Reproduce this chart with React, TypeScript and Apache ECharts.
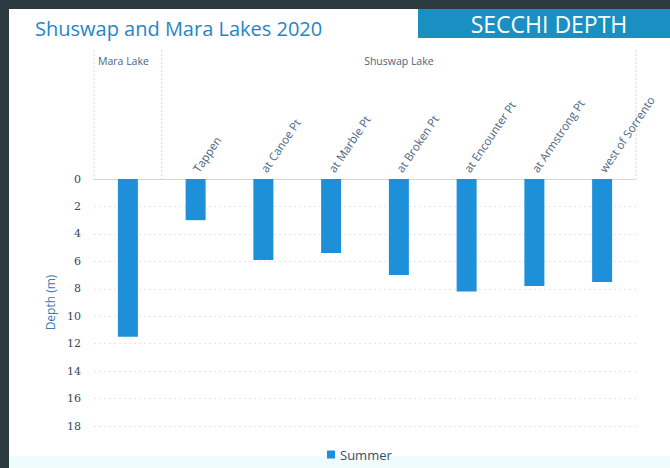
import React, { useEffect, useRef } from "react";
import * as echarts from "echarts";

const categories = ["Mara Lake", "Tappen", "at Canoe Pt", "at Marble Pt", "at Broken Pt", "at Encounter Pt", "at Armstrong Pt", "west of Sorrento"];
const summerDepth = [11.5, 3.0, 5.9, 5.4, 7.0, 8.2, 7.8, 7.5];
const groupNames = ["Mara Lake", "Shuswap Lake"];
const groupSpans = [1, 7];
const yTicks = { min: 0, max: 18, interval: 2 };

const W = 670;
const H = 468;
const GRID = { left: 94, right: 34, top: 179, bottom: 42 };
const BOX_TOP = 50;

export default function App() {
  const ref = useRef<HTMLDivElement>(null);
  useEffect(() => {
    if (!ref.current) return;
    const chart = echarts.init(ref.current, null, { renderer: "svg" });
    const plotW = W - GRID.left - GRID.right;
    const cellW = plotW / categories.length;
    const groupGraphics: any[] = [];
    let start = 0;
    const sepLine = (x: number) => ({
      type: "line",
      shape: { x1: x, y1: BOX_TOP, x2: x, y2: GRID.top },
      style: { stroke: "#d4d8dc", lineWidth: 1, lineDash: [2, 2] },
      silent: true,
    });
    groupGraphics.push(sepLine(GRID.left));
    groupNames.forEach((g, i) => {
      const x0 = GRID.left + start * cellW;
      const x1 = GRID.left + (start + groupSpans[i]) * cellW;
      groupGraphics.push(sepLine(x1));
      groupGraphics.push({
        type: "text",
        x: i === 0 ? x0 + 4 : (x0 + x1) / 2,
        y: 61,
        style: {
          text: g,
          fill: "#4a6482",
          font: "10.5px 'Open Sans', sans-serif",
          textAlign: i === 0 ? "left" : "center",
          textVerticalAlign: "middle",
        },
        silent: true,
      });
      start += groupSpans[i];
    });

    chart.setOption({
      animation: false,
      backgroundColor: "#ffffff",
      graphic: [
        { type: "rect", shape: { x: 0, y: 0, width: W, height: 9 }, style: { fill: "#2b3a3f" }, silent: true, z: -10 },
        { type: "rect", shape: { x: 0, y: 0, width: 9, height: H }, style: { fill: "#2b3a3f" }, silent: true, z: -10 },
        { type: "rect", shape: { x: 9, y: 456, width: W, height: 12 }, style: { fill: "#effcfb" }, silent: true, z: -10 },
        { type: "rect", shape: { x: 418, y: 9, width: W - 418, height: 29 }, style: { fill: "#1a8fc2" }, silent: true },
        {
          type: "text",
          x: 35,
          y: 28,
          style: { text: "Shuswap and Mara Lakes 2020", fill: "#1f86c8", font: "500 20px 'Open Sans', sans-serif", textVerticalAlign: "middle" },
          silent: true,
        },
        {
          type: "text",
          x: 549,
          y: 24,
          style: { text: "SECCHI DEPTH", fill: "#ffffff", font: "500 23px 'Open Sans', sans-serif", textAlign: "center", textVerticalAlign: "middle" },
          silent: true,
        },
        ...groupGraphics,
      ],
      grid: { left: GRID.left, right: GRID.right, top: GRID.top, bottom: GRID.bottom, containLabel: false },
      legend: {
        data: ["Summer"],
        left: 322,
        top: 443,
        icon: "rect",
        itemWidth: 8,
        itemHeight: 8,
        itemGap: 4,
        textStyle: { color: "#3c4c5e", fontSize: 13, fontFamily: "'Open Sans', sans-serif" },
      },
      xAxis: {
        type: "category",
        position: "top",
        data: categories,
        axisLine: { show: true, lineStyle: { color: "#cfd6dc", width: 1 } },
        axisTick: { show: false },
        axisLabel: {
          rotate: 56,
          margin: 8,
          color: "#4a6482",
          fontSize: 11.5,
          fontFamily: "'Open Sans', sans-serif",
          formatter: (v: string, i: number) => (i === 0 ? "" : v),
        },
      },
      yAxis: {
        type: "value",
        inverse: true,
        min: yTicks.min,
        max: yTicks.max,
        interval: yTicks.interval,
        name: "Depth (m)",
        nameLocation: "middle",
        nameGap: 32,
        nameTextStyle: { color: "#3a7ab5", fontSize: 12, fontFamily: "'Open Sans', sans-serif" },
        axisLine: { show: false },
        axisTick: { show: false },
        axisLabel: { color: "#2c4a6e", fontSize: 11, margin: 13, fontFamily: "DejaVu Serif, serif" },
        splitLine: { show: true, lineStyle: { color: "#e3e6e9", type: [2, 3], width: 1 } },
      },
      series: [
        {
          name: "Summer",
          type: "bar",
          data: summerDepth,
          barWidth: 20,
          itemStyle: { color: "#1e90da" },
        },
      ],
    });
    return () => chart.dispose();
  }, []);
  return <div ref={ref} style={{ position: "fixed", left: 0, top: 0, width: W, height: H }} />;
}
